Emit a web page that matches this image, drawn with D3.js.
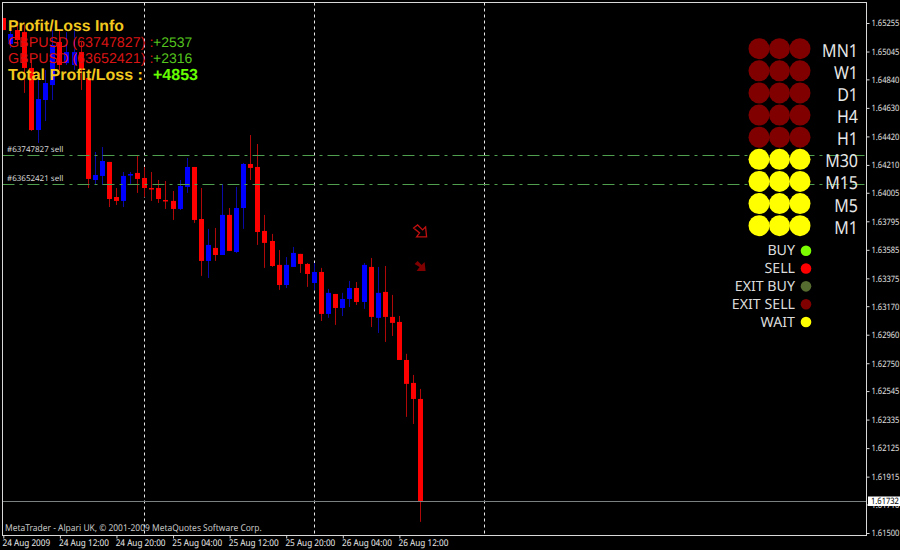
<!DOCTYPE html>
<html>
<head>
<meta charset="utf-8">
<script src="https://cdn.jsdelivr.net/npm/d3@7"></script>
<style>
html,body{margin:0;padding:0;background:#000;}
svg{display:block;}
text{text-rendering:geometricPrecision;}
</style>
</head>
<body>
<svg id="c" width="900" height="550"></svg>
<script>
const opens  = [1.65292,1.65100,1.65203,1.65188,1.64924,1.64467,1.64688,1.64798,1.65115,1.64960,1.64946,1.65041,1.64850,1.64099,1.64129,1.64232,1.63974,1.63945,1.64132,1.64151,1.64114,1.64040,1.64040,1.63952,1.63945,1.63886,1.64048,1.64195,1.63812,1.63503,1.63599,1.63547,1.63842,1.63569,1.63893,1.64217,1.64195,1.63724,1.63650,1.63474,1.63326,1.63459,1.63555,1.63481,1.63341,1.63422,1.63113,1.63260,1.63157,1.63223,1.63304,1.63201,1.63459,1.63084,1.63275,1.63091,1.63054,1.62774,1.62605,1.62487];
const highs  = [1.65292,1.65203,1.65262,1.65240,1.64982,1.64835,1.64909,1.65203,1.65196,1.65188,1.65203,1.65115,1.64909,1.64305,1.64342,1.64232,1.64040,1.64158,1.64158,1.64276,1.64195,1.64158,1.64099,1.64092,1.64018,1.64099,1.64261,1.64195,1.64040,1.63739,1.63746,1.64070,1.63893,1.64048,1.64224,1.64430,1.64364,1.63842,1.63702,1.63584,1.63532,1.63606,1.63555,1.63488,1.63488,1.63452,1.63297,1.63260,1.63268,1.63356,1.63348,1.63488,1.63525,1.63459,1.63466,1.63253,1.63098,1.62819,1.62664,1.62561];
const lows   = [1.65203,1.65071,1.65100,1.64740,1.64460,1.64372,1.64533,1.64688,1.64909,1.64946,1.64909,1.64762,1.64040,1.64062,1.64062,1.63900,1.63915,1.63900,1.64062,1.64004,1.63974,1.63945,1.63930,1.63886,1.63805,1.63878,1.64004,1.63783,1.63393,1.63378,1.63503,1.63547,1.63577,1.63562,1.63739,1.64099,1.63621,1.63452,1.63459,1.63290,1.63304,1.63459,1.63415,1.63312,1.63290,1.63061,1.63084,1.63032,1.63098,1.63164,1.63179,1.63150,1.63017,1.62973,1.62907,1.62951,1.62774,1.62355,1.62303,1.61582];
const closes = [1.65203,1.65174,1.65130,1.64924,1.64467,1.64695,1.64813,1.65093,1.64946,1.65041,1.65041,1.64909,1.64107,1.64136,1.64239,1.63959,1.63945,1.64129,1.64143,1.64107,1.64040,1.64029,1.63959,1.63941,1.63886,1.64055,1.64195,1.63805,1.63503,1.63621,1.63547,1.63842,1.63577,1.63893,1.64217,1.64188,1.63716,1.63636,1.63466,1.63326,1.63474,1.63562,1.63481,1.63407,1.63422,1.63113,1.63268,1.63157,1.63223,1.63304,1.63201,1.63474,1.63091,1.63268,1.63091,1.63047,1.62774,1.62598,1.62487,1.61732];

const priceTicks = [1.65255,1.65045,1.64840,1.64630,1.64420,1.64210,1.64005,1.63795,1.63585,1.63375,1.63170,1.62960,1.62750,1.62545,1.62335,1.62125,1.61915,1.61710,1.61500];
const timeTickBars = [0,8,16,24,32,40,48,56];
const timeTickLabels = ["24 Aug 2009","24 Aug 12:00","24 Aug 20:00","25 Aug 04:00","25 Aug 12:00","25 Aug 20:00","26 Aug 04:00","26 Aug 12:00"];
const separatorBars = [20,44,68];
const orderPrices = [1.64285,1.64066];
const orderLabels = ["#63747827 sell","#63652421 sell"];
const currentPrice = 1.61732;
const arrowBar = 59;
const arrowPrices = [1.63724,1.63466];

const timeframes = ["MN1","W1","D1","H4","H1","M30","M15","M5","M1"];
const timeframeStates = ["EXIT SELL","EXIT SELL","EXIT SELL","EXIT SELL","EXIT SELL","WAIT","WAIT","WAIT","WAIT"];
const signalColumns = [0,1,2];
const legendNames = ["BUY","SELL","EXIT BUY","EXIT SELL","WAIT"];
const legendColors = ["#7cfc00","#ff0000","#556b2f","#800000","#ffff00"];
const infoRows = ["GBPUSD (63747827) :","GBPUSD (63652421) :"];
const infoValues = ["+2537","+2316"];

const svg = d3.select("#c");
svg.append("rect").attr("width",900).attr("height",550).attr("fill","#000");

const F = {l:2.5,t:2.5,r:866.5,b:535.5};
const x = d3.scaleLinear().domain([0,59]).range([3.3,420.6]);
const y = d3.scaleLinear().domain([1.61500,1.65255]).range([533,23]);
const px = v => Math.floor(x(v))+.5;

svg.append("defs").append("clipPath").attr("id","plot").append("rect")
  .attr("x",F.l).attr("y",F.t).attr("width",F.r-F.l).attr("height",F.b-F.t);
const plot = svg.append("g").attr("clip-path","url(#plot)");

const bars = d3.range(opens.length);
const up = i => closes[i] > opens[i];

// period separators
plot.selectAll("line.sep").data(separatorBars).join("line").attr("class","sep")
  .attr("x1",px).attr("x2",px)
  .attr("y1",F.t).attr("y2",F.b).attr("stroke","#e8e8e8").attr("stroke-dasharray","3 3");

// wicks and bodies
plot.selectAll("line.wick").data(bars).join("line").attr("class","wick")
  .attr("x1",px).attr("x2",px)
  .attr("y1",i=>y(highs[i])).attr("y2",i=>y(lows[i]))
  .attr("stroke",i=>up(i)?"#0a0aa8":"#b00808").attr("stroke-width",1);
plot.selectAll("rect.body").data(bars).join("rect").attr("class","body")
  .attr("x",i=>px(i)-2.5).attr("width",5)
  .attr("y",i=>y(Math.max(opens[i],closes[i])))
  .attr("height",i=>Math.max(1.5,Math.abs(y(opens[i])-y(closes[i]))))
  .attr("fill",i=>up(i)?"#0000ff":"#ff0000");

// order lines
plot.selectAll("line.ord").data(orderPrices).join("line").attr("class","ord")
  .attr("x1",F.l).attr("x2",F.r).attr("y1",d=>Math.round(y(d))+.5).attr("y2",d=>Math.round(y(d))+.5)
  .attr("stroke","#4f9f4f").attr("stroke-dasharray","12 5 3 5");
plot.selectAll("text.ord").data(orderPrices).join("text").attr("class","ord")
  .attr("x",7).attr("y",d=>y(d)-3).attr("fill","#d8d8d8")
  .style("font","8px 'Noto Sans'")
  .text((d,i)=>orderLabels[i]);

// current price line
plot.append("line").attr("x1",F.l).attr("x2",F.r)
  .attr("y1",Math.round(y(currentPrice))+.5).attr("y2",Math.round(y(currentPrice))+.5)
  .attr("stroke","#7a7f80");

// arrows
const hollow = d3.line()([[-7,-3],[-3,-6],[2,-1],[5,-4],[6,6],[-4,6],[-1,2]])+"Z";
const solid = d3.line()([[-6,-2],[-3,-5],[1,-1],[4,-4],[5,5],[-4,5],[-1,1]])+"Z";
plot.append("path").attr("d",hollow).attr("transform",`translate(${x(arrowBar)},${y(arrowPrices[0])})`)
  .attr("fill","none").attr("stroke","#c01010").attr("stroke-width",1.3);
plot.append("path").attr("d",solid).attr("transform",`translate(${x(arrowBar)},${y(arrowPrices[1])})`)
  .attr("fill","#800000");

// frame
svg.append("rect").attr("x",F.l).attr("y",F.t).attr("width",F.r-F.l).attr("height",F.b-F.t)
  .attr("fill","none").attr("stroke","#d8d8d8");

// axes
const axisR = d3.axisRight(y).tickValues(priceTicks).tickFormat(d3.format(".5f")).tickSize(3).tickPadding(2);
const gy = svg.append("g").attr("transform",`translate(${F.r},0)`).call(axisR);
gy.select(".domain").remove();
gy.selectAll("line").attr("stroke","#d8d8d8");
gy.selectAll("text").attr("fill","#e0e0e0").attr("x",5.9).attr("transform","scale(.85,1)").style("font","8.9px 'Noto Sans'");

const axisB = d3.axisBottom(x).tickValues(timeTickBars).tickFormat((d,i)=>timeTickLabels[i]).tickSize(3).tickPadding(1);
const gx = svg.append("g").attr("transform",`translate(0,${F.b})`).call(axisB);
gx.select(".domain").remove();
gx.selectAll("line").attr("stroke","#d8d8d8");
gx.selectAll("text").attr("fill","#e8e8e8").attr("text-anchor","start").attr("dx",-1.5).attr("transform","scale(.88,1)").style("font","9.3px 'Noto Sans'");

// current price tag
const tag = svg.append("g").attr("transform",`translate(868,${y(currentPrice)})`);
tag.append("rect").attr("y",-5).attr("width",32).attr("height",9.5).attr("fill","#fff");
tag.append("text").attr("x",3.5).attr("y",3).attr("fill","#000").attr("transform","scale(.85,1)").style("font","8.9px 'Noto Sans'").text(d3.format(".5f")(currentPrice));

// copyright
svg.append("text").attr("transform","translate(5,531) scale(.9,1)").attr("fill","#c8c8c8").style("font","9.4px 'Noto Sans'")
  .text("MetaTrader - Alpari UK, © 2001-2009 MetaQuotes Software Corp.");

// profit info
const AR = "'Liberation Sans'";
svg.append("text").attr("x",8).attr("y",31).attr("fill","#f2c81e").style("font",`bold 15.8px ${AR}`).text("Profit/Loss Info");
svg.selectAll("text.inf").data(infoRows).join("text").attr("class","inf")
  .attr("x",8).attr("y",(d,i)=>47+16*i).attr("fill","#d81414").style("font",`14.3px ${AR}`).text(d=>d);
svg.selectAll("text.infv").data(infoValues).join("text").attr("class","infv")
  .attr("x",153).attr("y",(d,i)=>47+16*i).attr("fill","#55c41e").style("font",`14px ${AR}`).text(d=>d);
svg.append("text").attr("x",8).attr("y",80).attr("fill","#f2c81e").style("font",`bold 16px ${AR}`).text("Total Profit/Loss :");
svg.append("text").attr("x",153).attr("y",80).attr("fill","#66ff00").style("font",`bold 16px ${AR}`)
  .text("+" + d3.format("d")(+infoValues[0] + +infoValues[1]));

// signal panel
const rowY = d3.scalePoint().domain(timeframes).range([48.7,225.7]);
const colX = d3.scalePoint().domain(signalColumns).range([759,800]);
const stateColor = s => legendColors[legendNames.indexOf(s)];
timeframes.forEach((tf,ti)=>{
  svg.selectAll(null).data(signalColumns).join("circle")
    .attr("cx",d=>colX(d)).attr("cy",rowY(tf)).attr("r",10.5).attr("fill",stateColor(timeframeStates[ti]));
});
svg.selectAll("text.tf").data(timeframes).join("text").attr("class","tf")
  .attr("transform",d=>`translate(858,${rowY(d)+8}) scale(.89,1)`).attr("text-anchor","end").attr("fill","#e8e8e8")
  .style("font","18px 'Noto Sans'").text(d=>d);

const legY = d3.scalePoint().domain(legendNames).range([250.7,322]);
svg.selectAll("circle.leg").data(legendNames).join("circle").attr("class","leg")
  .attr("cx",806).attr("cy",d=>legY(d)).attr("r",5.3).attr("fill",(d,i)=>legendColors[i]);
svg.selectAll("text.leg").data(legendNames).join("text").attr("class","leg")
  .attr("x",795).attr("y",d=>legY(d)+4.5).attr("text-anchor","end").attr("fill","#dcdcdc")
  .style("font","14.2px 'Noto Sans'").text(d=>d);
</script>
</body>
</html>
